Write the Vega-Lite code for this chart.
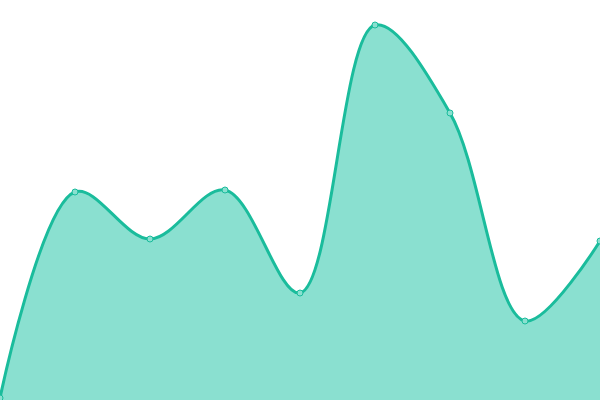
{
  "$schema": "https://vega.github.io/schema/vega-lite/v6.json",
  "autosize": {"type": "none"},
  "width": 600,
  "height": 400,
  "padding": 0,
  "background": "white",
  "config": {"view": {"stroke": null}},
  "data": {
    "values": [
      {"x": 0, "y": 2},
      {"x": 1, "y": 208},
      {"x": 2, "y": 161},
      {"x": 3, "y": 210},
      {"x": 4, "y": 107},
      {"x": 5, "y": 375},
      {"x": 6, "y": 287},
      {"x": 7, "y": 79},
      {"x": 8, "y": 159}
    ]
  },
  "encoding": {
    "x": {"field": "x", "type": "quantitative", "axis": null, "scale": {"domain": [0, 8], "nice": false, "zero": false}},
    "y": {"field": "y", "type": "quantitative", "axis": null, "scale": {"domain": [0, 400], "nice": false}}
  },
  "layer": [
    {"mark": {"type": "area", "interpolate": "catmull-rom", "color": "#8ae0d0", "opacity": 1}},
    {"mark": {"type": "line", "interpolate": "catmull-rom", "color": "#1abc9c", "strokeWidth": 3}},
    {"mark": {"type": "point", "filled": true, "fill": "#8ae0d0", "stroke": "#1abc9c", "strokeWidth": 1, "size": 36, "opacity": 1}}
  ]
}
